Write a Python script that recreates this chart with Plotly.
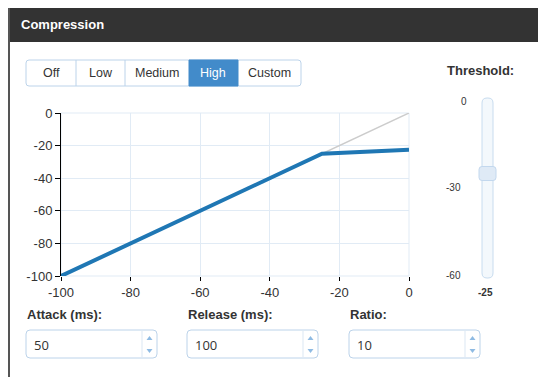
import plotly.graph_objects as go

# compression curve (dB in -> dB out)
input_db = [-100, -25, 0]
output_db = [-100, -25, -22.5]
unity_in = [-100, 0]
unity_out = [-100, 0]

axis_ticks = [-100, -80, -60, -40, -20, 0]
axis_labels = ["-100", "-80", "-60", "-40", "-20", "0"]

preset_labels = ["Off", "Low", "Medium", "High", "Custom"]
preset_selected = "High"

threshold = -25
threshold_ticks = [0, -30, -60]

field_labels = ["Attack (ms):", "Release (ms):", "Ratio:"]
field_values = ["50", "100", "10"]

W, H = 538, 377
FONT = "Liberation Sans, Arial, sans-serif"
DARK = "#333333"
EDGE = "#bcd3ea"


def px(x):
    return x / W


def py(y):
    return 1 - y / H


def rrect(x0, y0, x1, y1, r=3):
    # rounded rect path in paper units, inputs are screen pixels
    pts = [
        f"M {px(x0 + r)},{py(y0)}",
        f"L {px(x1 - r)},{py(y0)}",
        f"Q {px(x1)},{py(y0)} {px(x1)},{py(y0 + r)}",
        f"L {px(x1)},{py(y1 - r)}",
        f"Q {px(x1)},{py(y1)} {px(x1 - r)},{py(y1)}",
        f"L {px(x0 + r)},{py(y1)}",
        f"Q {px(x0)},{py(y1)} {px(x0)},{py(y1 - r)}",
        f"L {px(x0)},{py(y0 + r)}",
        f"Q {px(x0)},{py(y0)} {px(x0 + r)},{py(y0)}",
        "Z",
    ]
    return " ".join(pts)


def box(x0, y0, x1, y1, fill, line, width=1, layer="below"):
    return dict(type="rect", xref="paper", yref="paper", x0=px(x0), x1=px(x1),
                y0=py(y1), y1=py(y0), fillcolor=fill, line=dict(color=line, width=width),
                layer=layer)


def label(text, x, y, size=13, color=DARK, bold=False, anchor="left", family=FONT):
    if bold:
        text = f"<b>{text}</b>"
    return dict(text=text, x=px(x), y=py(y), xref="paper", yref="paper", showarrow=False,
                xanchor=anchor, yanchor="middle", font=dict(size=size, color=color, family=family))


fig = go.Figure()
fig.add_trace(go.Scatter(x=unity_in, y=unity_out, mode="lines",
                         line=dict(color="#cccccc", width=1.5), hoverinfo="skip"))
fig.add_trace(go.Scatter(x=input_db, y=output_db, mode="lines",
                         line=dict(color="#1f77b4", width=4)))

shapes = []
annotations = []

# panel header + left border
shapes.append(box(8, 8, 540, 42, "#333333", "#333333", 0))
shapes.append(dict(type="line", xref="paper", yref="paper", x0=px(9), x1=px(9),
                   y0=py(8), y1=py(380), line=dict(color="#555555", width=2)))
annotations.append(label("Compression", 19, 25, size=13, color="white", bold=True))

# preset buttons
edges = [26, 76, 125, 189, 238, 301]
shapes.append(dict(type="path", xref="paper", yref="paper", path=rrect(26, 60, 301, 86, 3),
                   fillcolor="white", line=dict(color=EDGE, width=1), layer="below"))
for i, name in enumerate(preset_labels):
    x0, x1 = edges[i], edges[i + 1]
    on = name == preset_selected
    if on:
        shapes.append(box(x0, 60, x1, 86, "#428bca", "#428bca", 1))
    elif i > 0 and preset_labels[i - 1] != preset_selected:
        shapes.append(dict(type="line", xref="paper", yref="paper", x0=px(x0), x1=px(x0),
                           y0=py(60), y1=py(86), line=dict(color=EDGE, width=1)))
    annotations.append(label(name, (x0 + x1) / 2, 73, size=12.5,
                             color="white" if on else DARK, anchor="center"))

# threshold slider
annotations.append(label("Threshold:", 480, 71, size=13, bold=True, anchor="center"))
shapes.append(dict(type="path", xref="paper", yref="paper", path=rrect(482, 98, 493, 278, 5),
                   fillcolor="#f3f8fc", line=dict(color="#c8dcef", width=1)))
t_top, t_bot = 101, 275
for t, cx in zip(threshold_ticks, [464, 453, 453]):
    annotations.append(label(str(t), cx, t_top + (-t) / 60 * (t_bot - t_top), size=10, anchor="center"))
hy = t_top + (-threshold) / 60 * (t_bot - t_top)
shapes.append(dict(type="path", xref="paper", yref="paper", path=rrect(479, hy - 7, 496, hy + 7, 3),
                   fillcolor="#dfeaf6", line=dict(color="#c3d8ee", width=1)))
annotations.append(label(str(threshold), 485, 292, size=10, bold=True, anchor="center"))

# numeric inputs
fields_x = [26, 187, 349]
for name, val, x0 in zip(field_labels, field_values, fields_x):
    x1 = x0 + 131
    sx = x1 - 15
    annotations.append(label(name, x0 - 1, 314, size=13, bold=True))
    shapes.append(dict(type="path", xref="paper", yref="paper", path=rrect(x0, 330, x1, 358, 4),
                       fillcolor="white", line=dict(color=EDGE, width=1), layer="below"))
    shapes.append(dict(type="line", xref="paper", yref="paper", x0=px(sx), x1=px(sx),
                       y0=py(331), y1=py(357), line=dict(color="#dbe7f3", width=1)))
    cx = (sx + x1) / 2
    shapes.append(dict(type="path", xref="paper", yref="paper", fillcolor="#8fbbe3",
                       line=dict(width=0),
                       path=f"M {px(cx - 3)},{py(340)} L {px(cx + 3)},{py(340)} L {px(cx)},{py(336)} Z"))
    shapes.append(dict(type="path", xref="paper", yref="paper", fillcolor="#8fbbe3",
                       line=dict(width=0),
                       path=f"M {px(cx - 3)},{py(349)} L {px(cx + 3)},{py(349)} L {px(cx)},{py(353)} Z"))
    annotations.append(label(val, x0 + 6, 345, size=13, family="Open Sans, sans-serif"))

# plot frame
shapes.append(dict(type="rect", xref="paper", yref="paper", x0=px(61), x1=px(409),
                   y0=py(276), y1=py(113), line=dict(color="#e1ebf5", width=1), layer="below"))

fig.update_layout(
    width=W, height=H,
    margin=dict(l=0, r=0, t=0, b=0),
    paper_bgcolor="white", plot_bgcolor="white",
    showlegend=False,
    shapes=shapes, annotations=annotations,
    font=dict(family=FONT, size=13, color=DARK),
    xaxis=dict(domain=[px(61), px(409)], range=[-100, 0], tickvals=axis_ticks, ticktext=axis_labels,
               showgrid=True, gridcolor="#e1ebf5", zeroline=False, showline=False,
               ticks="outside", ticklen=4, tickcolor="#000000", tickfont=dict(size=13, color=DARK),
               fixedrange=True, automargin=False),
    yaxis=dict(domain=[py(276), py(113)], range=[-100, 0], tickvals=axis_ticks, ticktext=axis_labels,
               showgrid=True, gridcolor="#e1ebf5", zeroline=False, showline=True,
               linecolor="#000000", linewidth=1,
               ticks="outside", ticklen=5, tickcolor="#000000", tickfont=dict(size=13, color=DARK),
               fixedrange=True, automargin=False),
)

# drop the default page margin so the figure fills the window
fig.write_html("out.html", config={"displayModeBar": False},
               post_script="document.body.style.margin='0';document.body.style.overflow='hidden';")
